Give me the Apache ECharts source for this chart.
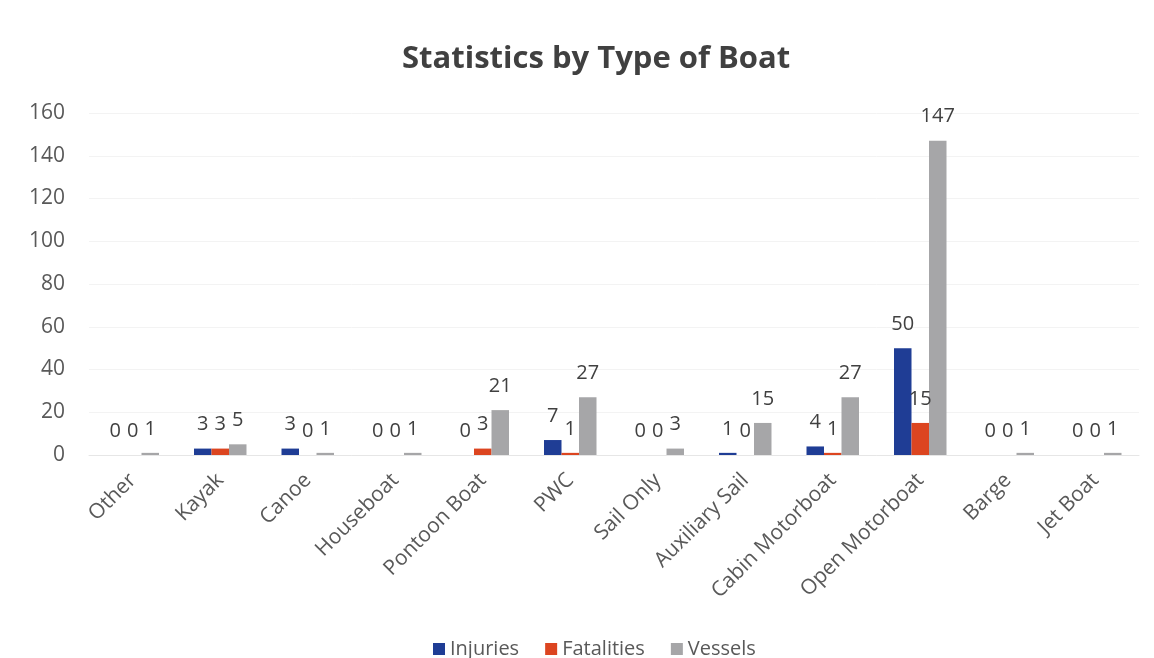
<!DOCTYPE html>
<html>
<head>
<meta charset="utf-8">
<script src="https://cdn.jsdelivr.net/npm/echarts@6/dist/echarts.min.js"></script>
<style>
html,body{margin:0;padding:0;background:#fff;}
#chart{width:1154px;height:658px;}
</style>
</head>
<body>
<div id="chart"></div>
<script>
const categories = ['Other','Kayak','Canoe','Houseboat','Pontoon Boat','PWC','Sail Only','Auxiliary Sail','Cabin Motorboat','Open Motorboat','Barge','Jet Boat'];
const injuries   = [0,3,3,0,0,7,0,1,4,50,0,0];
const fatalities = [0,3,0,0,3,1,0,0,1,15,0,0];
const vessels    = [1,5,1,1,21,27,3,15,27,147,1,1];
const yTicks = [0,20,40,60,80,100,120,140,160];

const FONT = '"Open Sans", "Liberation Sans", sans-serif';
const lbl = {show:true, position:'top', distance:14, color:'#404040', fontSize:20, fontFamily:FONT};

const chart = echarts.init(document.getElementById('chart'), null, {renderer:'canvas'});
chart.setOption({
  backgroundColor:'#ffffff',
  animation:false,
  title:{text:'Statistics by Type of Boat', left:397, top:39,
    textStyle:{fontFamily:FONT, fontWeight:'bold', fontSize:31, color:'#404040'}},
  grid:{left:89, right:15, top:113, bottom:203, containLabel:false},
  legend:{top:634, left:428, itemWidth:12, itemHeight:12, itemGap:26,
    icon:'rect',
    textStyle:{fontFamily:FONT, fontSize:20, color:'#595959'},
    data:['Injuries','Fatalities','Vessels']},
  xAxis:{type:'category', data:categories,
    axisLine:{show:true, lineStyle:{color:'#e6e6e6'}},
    axisTick:{show:false},
    axisLabel:{rotate:45, interval:0, margin:22, fontFamily:FONT, fontSize:21, color:'#595959'}},
  yAxis:{type:'value', min:yTicks[0], max:yTicks[yTicks.length-1], interval:20,
    axisLine:{show:false}, axisTick:{show:false},
    splitLine:{lineStyle:{color:'#f3f3f3'}},
    axisLabel:{margin:24, fontFamily:FONT, fontSize:21, color:'#595959'}},
  series:[
    {name:'Injuries', type:'bar', data:injuries, barGap:'0%', barCategoryGap:'40%',
      itemStyle:{color:'#1f3d95'}, label:lbl},
    {name:'Fatalities', type:'bar', data:fatalities, barGap:'0%', barCategoryGap:'40%',
      itemStyle:{color:'#dc4520'}, label:lbl},
    {name:'Vessels', type:'bar', data:vessels, barGap:'0%', barCategoryGap:'40%',
      itemStyle:{color:'#a6a6a8'}, label:lbl}
  ]
});
</script>
</body>
</html>
